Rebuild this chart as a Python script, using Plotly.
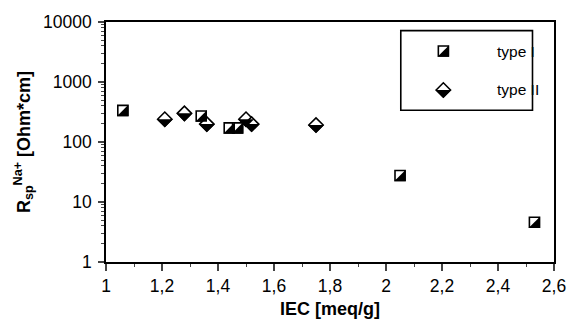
import plotly.graph_objects as go

# ---- data ----
series_names = ["type I", "type II"]
type1_iec = [1.06, 1.34, 1.44, 1.47, 2.05, 2.53]
type1_r = [336, 272, 172, 172, 27.6, 4.6]
type2_iec = [1.21, 1.28, 1.36, 1.50, 1.52, 1.75]
type2_r = [240, 300, 199, 240, 199, 192]
y_tickvals = [1, 10, 100, 1000, 10000]
y_ticktext = ["1", "10", "100", "1000", "10000"]

FONT = "Liberation Sans, Arial, sans-serif"
SQ = 10          # square marker size
DI = 11          # diamond marker size
LW = 1.6

H = SQ / 2 + LW / 2          # half outer size of square
D = 1.3 * DI / 2 + LW * 0.6  # half diagonal of diamond
SQ_HALF = f"M {H},{H} L {H},{-H} L {-H},{-H} Z"   # lower-right black half (y up)
DI_HALF = f"M {-D},0 L {D},0 L 0,{-D} Z"          # lower black half (y up)


def half_shape(path, xa, ya, xref, yref):
    return dict(type="path", path=path, xref=xref, yref=yref, xsizemode="pixel",
                ysizemode="pixel", xanchor=xa, yanchor=ya, fillcolor="black",
                line=dict(width=0), layer="above")


fig = go.Figure()

fig.add_trace(go.Scatter(x=type1_iec, y=type1_r, mode="markers", name=series_names[0],
                         showlegend=False, cliponaxis=False,
                         marker=dict(symbol="square", size=SQ, color="white",
                                     line=dict(color="black", width=LW))))
fig.add_trace(go.Scatter(x=type2_iec, y=type2_r, mode="markers", name=series_names[1],
                         showlegend=False, cliponaxis=False,
                         marker=dict(symbol="diamond", size=DI, color="white",
                                     line=dict(color="black", width=LW))))

shapes = []
for xv, yv in zip(type1_iec, type1_r):
    shapes.append(half_shape(SQ_HALF, xv, yv, "x", "y"))
for xv, yv in zip(type2_iec, type2_r):
    shapes.append(half_shape(DI_HALF, xv, yv, "x", "y"))

# ---- manual legend on an overlay axis (0..1) ----
leg_x = 0.753
leg_y = [0.879, 0.717]
leg_tx = 0.868
fig.add_trace(go.Scatter(x=[leg_x], y=[leg_y[0]], xaxis="x2", yaxis="y2", mode="markers",
                         showlegend=False, cliponaxis=False,
                         marker=dict(symbol="square", size=SQ, color="white",
                                     line=dict(color="black", width=LW))))
fig.add_trace(go.Scatter(x=[leg_x], y=[leg_y[1]], xaxis="x2", yaxis="y2", mode="markers",
                         showlegend=False, cliponaxis=False,
                         marker=dict(symbol="diamond", size=DI, color="white",
                                     line=dict(color="black", width=LW))))
shapes.append(half_shape(SQ_HALF, leg_x, leg_y[0], "x2", "y2"))
shapes.append(half_shape(DI_HALF, leg_x, leg_y[1], "x2", "y2"))

for name, yy in zip(series_names, leg_y):
    fig.add_annotation(x=leg_tx, y=yy, xref="x2", yref="y2", text=name, showarrow=False,
                       xanchor="left", yanchor="middle",
                       font=dict(family=FONT, size=15.5, color="black"))
shapes.append(dict(type="rect", xref="paper", yref="paper", x0=0.658, x1=0.952,
                   y0=0.632, y1=0.964, line=dict(color="black", width=1.6),
                   fillcolor="rgba(0,0,0,0)", layer="above"))

fig.update_layout(
    width=578, height=328,
    margin=dict(l=106, r=13, t=19, b=61),
    paper_bgcolor="white", plot_bgcolor="white",
    separators=",.",
    font=dict(family=FONT, size=17.5, color="black"),
    shapes=shapes,
    xaxis=dict(range=[1, 2.6], tick0=1, dtick=0.2, ticks="outside", ticklen=7, tickwidth=1.5,
               showline=True, linecolor="black", linewidth=1.6, mirror=True,
               showgrid=False, zeroline=False,
               minor=dict(dtick=0.1, ticks="outside", ticklen=3, tickwidth=1.2, showgrid=False),
               tickfont=dict(family=FONT, size=17.5),
               title=dict(text="<b>IEC [meq/g]</b>", font=dict(family=FONT, size=18), standoff=8)),
    yaxis=dict(type="log", range=[0, 4], tickvals=y_tickvals, ticktext=y_ticktext,
               ticks="outside", ticklen=6, tickwidth=1.5, ticklabelstandoff=3,
               showline=True, linecolor="black", linewidth=1.6, mirror=True,
               showgrid=False, zeroline=False,
               minor=dict(dtick="D1", ticks="outside", ticklen=3, tickwidth=1.2, showgrid=False),
               tickfont=dict(family=FONT, size=17.5),
               title=dict(text="<b>R<sub>sp</sub><sup>Na+</sup> [Ohm*cm]</b>",
                          font=dict(family=FONT, size=18), standoff=8)),
    xaxis2=dict(overlaying="x", anchor="y2", range=[0, 1], visible=False, fixedrange=True),
    yaxis2=dict(overlaying="y", anchor="x2", range=[0, 1], visible=False, fixedrange=True),
    showlegend=False,
)

fig.write_html("out.html")
